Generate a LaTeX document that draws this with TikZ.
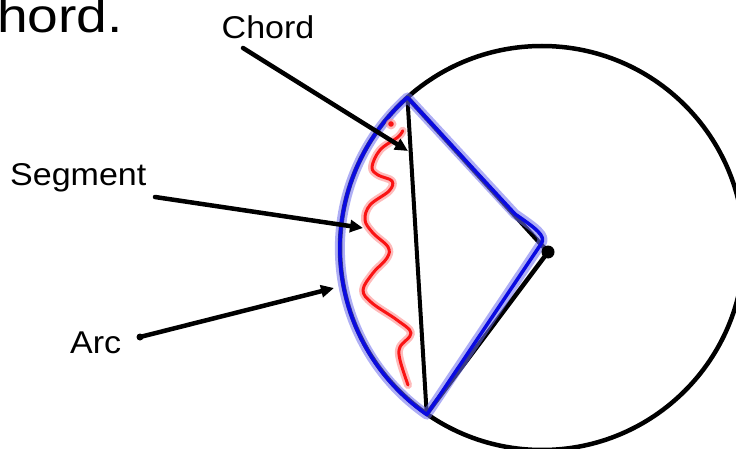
\documentclass[tikz,border=0pt]{standalone}
\usepackage{fontspec}
\setmainfont{Liberation Sans}
\newfontfamily\labfont{Liberation Sans}[FakeStretch=1.08]
\newfontfamily\titlefont{Liberation Sans}[FakeStretch=1.15]
\usetikzlibrary{arrows.meta,calc}
\definecolor{penblue}{RGB}{10,10,225}
\definecolor{penred}{RGB}{250,20,20}
\begin{document}
\begin{tikzpicture}[x=1pt,y=-1pt,
  lab/.style={anchor=base west,inner sep=0pt,font=\labfont\fontsize{31.5}{36}\selectfont},
  titlelab/.style={anchor=base west,inner sep=0pt,font=\titlefont\fontsize{48}{54}\selectfont},
  pointer/.style={line width=4.5pt,line cap=round,-{Triangle[length=13pt,width=12pt]}},
  geo/.style={line width=4.5pt,line cap=round,line join=round},
  bluehalo/.style={line width=10pt,draw=penblue!60,draw opacity=0.55,line join=round,line cap=round},
  bluecore/.style={line width=3.5pt,draw=penblue,line join=round,line cap=round},
  redhalo/.style={line width=8pt,draw=penred!45,draw opacity=0.65,line cap=round,line join=round},
  redcore/.style={line width=3pt,draw=penred,line cap=round,line join=round}]
\useasboundingbox (0,0) rectangle (736,449);
% geometry
\coordinate (O) at (542,248);
\coordinate (A) at (407.4,97.4);
\coordinate (B) at (426.7,413.9);
\coordinate (D) at (548,252);
\coordinate (Dn) at (541,244);
\coordinate (Ub) at (515,214);
% circle, chord, radii
\draw[geo] (O) circle[radius=202];
\draw[line width=4pt] (A) -- (B);
\draw[geo] (A) -- (D);
\draw[geo] (B) -- (D);
% blue highlight of the sector
\draw[bluehalo] (A) arc[start angle=228.2,end angle=124.8,radius=202.5] -- (Dn) .. controls (547,236) and (535,228) .. (Ub) -- cycle;
\draw[bluecore] (A) arc[start angle=228.2,end angle=124.8,radius=202.5] -- (Dn) .. controls (547,236) and (535,228) .. (Ub) -- cycle;
% red wavy line in the segment
\foreach \s in {redhalo,redcore}{
  \draw[\s] plot[smooth,tension=0.6] coordinates {(402.7,130.7) (398,137) (380,150) (372,167) (378,175) (392,181) (389,191) (370,205) (365,220) (373,233) (388,247) (387,258) (373,273) (363,290) (372,303) (397,320) (411,333) (400,347) (400,360) (408,385)};
  \draw[\s] (391,124) circle[radius=1.5];
}
% center dot
\fill (D) circle[radius=6.5];
% labels
\node[titlelab] (title) at (-3,33) {hord.};
\node[lab] (chordlab) at (221.5,38.3) {Chord};
\node[lab] (seglab) at (10,185.7) {Segment};
\node[lab] (arclab) at (70,353) {Arc};
% pointers
\coordinate (chs) at (243,48);
\coordinate (cht) at (408,151);
\coordinate (sgs) at (155,197);
\coordinate (sgt) at (363,228);
\coordinate (acs) at (140,337);
\coordinate (act) at (334,288);
\draw[pointer] (chs) -- (cht);
\draw[pointer] (sgs) -- (sgt);
\draw[pointer] (acs) -- (act);
\fill (acs) circle[radius=3.5];
\end{tikzpicture}
\end{document}
